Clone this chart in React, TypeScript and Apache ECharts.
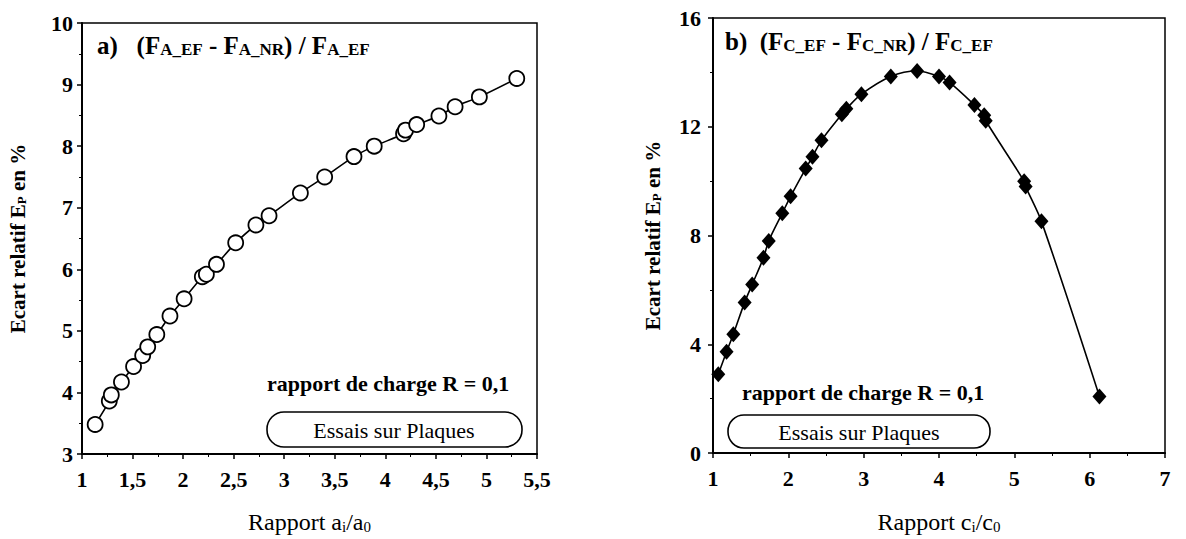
import React, { useEffect, useRef } from "react";
import * as echarts from "echarts";

const ratioA = [1.13, 1.27, 1.29, 1.39, 1.51, 1.6, 1.65, 1.74, 1.87, 2.01, 2.19, 2.23, 2.33, 2.52, 2.72, 2.85, 3.16, 3.4, 3.69, 3.89, 4.18, 4.2, 4.31, 4.53, 4.69, 4.93, 5.3];
const ecartA = [3.48, 3.86, 3.96, 4.17, 4.42, 4.6, 4.74, 4.94, 5.24, 5.52, 5.88, 5.92, 6.08, 6.43, 6.72, 6.87, 7.24, 7.5, 7.83, 8.0, 8.2, 8.26, 8.35, 8.49, 8.64, 8.8, 9.1];

const ratioC = [1.07, 1.18, 1.27, 1.42, 1.52, 1.67, 1.74, 1.92, 2.03, 2.23, 2.32, 2.44, 2.71, 2.77, 2.97, 3.36, 3.71, 4.0, 4.14, 4.47, 4.6, 4.62, 5.13, 5.15, 5.36, 6.13];
const ecartC = [2.9, 3.72, 4.37, 5.54, 6.2, 7.18, 7.8, 8.82, 9.44, 10.46, 10.9, 11.5, 12.46, 12.66, 13.2, 13.85, 14.05, 13.85, 13.63, 12.8, 12.42, 12.22, 10.0, 9.8, 8.52, 2.08];

const xTicksA = { min: 1, max: 5.5, interval: 0.5 };
const yTicksA = { min: 3, max: 10, interval: 1 };
const xTicksC = { min: 1, max: 7, interval: 1 };
const yTicksC = { min: 0, max: 16, interval: 4 };

const FONT = "'Liberation Serif', 'DejaVu Serif', serif";

export default function App() {
  const ref = useRef<HTMLDivElement>(null);
  useEffect(() => {
    document.body.style.margin = "0";
    const chart = echarts.init(ref.current!, null, { renderer: "svg" });
    const tickLabel = {
      fontFamily: FONT,
      fontSize: 22,
      fontWeight: "bold" as const,
      color: "#000",
      formatter: (v: number) => String(v).replace(".", ","),
    };
    const axisLine = { show: true, lineStyle: { color: "#000", width: 2 } };
    const axisTick = { show: true, length: 5, lineStyle: { color: "#000", width: 1.5 } };
    const minorTick = { show: true, splitNumber: 2, length: 3, lineStyle: { color: "#000", width: 1 } };
    const nameRich = {
      a: { fontFamily: FONT, fontSize: 24, color: "#000" },
      s: { fontFamily: FONT, fontSize: 15, color: "#000", verticalAlign: "bottom" as const, padding: [9, 0, 0, 0] },
      yb: { fontFamily: FONT, fontSize: 21, fontWeight: "bold" as const, color: "#000" },
      ys: { fontFamily: FONT, fontSize: 13, fontWeight: "bold" as const, color: "#000", verticalAlign: "bottom" as const, padding: [7, 0, 0, 0] },
    };
    const titleRich = {
      b: { fontFamily: FONT, fontSize: 25, fontWeight: "bold" as const, color: "#000" },
      s: { fontFamily: FONT, fontSize: 17, fontWeight: "bold" as const, color: "#000", verticalAlign: "bottom" as const, padding: [7, 0, 0, 0] },
    };
    const option: any = {
      animation: false,
      backgroundColor: "#fff",
      grid: [
        { left: 82, top: 23, width: 455, height: 435, show: true, borderColor: "#000", borderWidth: 1.5, backgroundColor: "transparent" },
        { left: 713, top: 18, width: 452, height: 439, show: true, borderColor: "#000", borderWidth: 1.5, backgroundColor: "transparent" },
      ],
      xAxis: [
        {
          gridIndex: 0, type: "value", ...xTicksA,
          axisLine, axisTick, minorTick, splitLine: { show: false },
          axisLabel: { ...tickLabel, margin: 14 },
          name: "{a|Rapport a}{s|i}{a|/a}{s|0}",
          nameLocation: "middle", nameGap: 56,
          nameTextStyle: { rich: nameRich },
        },
        {
          gridIndex: 1, type: "value", ...xTicksC,
          axisLine, axisTick, minorTick, splitLine: { show: false },
          axisLabel: { ...tickLabel, margin: 14 },
          name: "{a|Rapport c}{s|i}{a|/c}{s|0}",
          nameLocation: "middle", nameGap: 57,
          nameTextStyle: { rich: nameRich },
        },
      ],
      yAxis: [
        {
          gridIndex: 0, type: "value", ...yTicksA,
          axisLine, axisTick, minorTick, splitLine: { show: false },
          axisLabel: { ...tickLabel, margin: 9 },
          name: "{yb|Ecart relatif E}{ys|P}{yb| en %}",
          nameLocation: "middle", nameGap: 54,
          nameTextStyle: { rich: nameRich },
        },
        {
          gridIndex: 1, type: "value", ...yTicksC,
          axisLine, axisTick, minorTick, splitLine: { show: false },
          axisLabel: { ...tickLabel, margin: 12 },
          name: "{yb|Ecart relatif E}{ys|P}{yb| en %}",
          nameLocation: "middle", nameGap: 50,
          nameTextStyle: { rich: nameRich },
        },
      ],
      series: [
        {
          type: "line", xAxisIndex: 0, yAxisIndex: 0,
          data: ratioA.map((x, i) => [x, ecartA[i]]),
          smooth: 0.3,
          symbol: "circle", symbolSize: 15,
          itemStyle: { color: "#fff", borderColor: "#000", borderWidth: 1.8 },
          lineStyle: { color: "#000", width: 1.6 },
          z: 3,
        },
        {
          type: "line", xAxisIndex: 1, yAxisIndex: 1,
          data: ratioC.map((x, i) => [x, ecartC[i]]),
          smooth: 0.3,
          symbol: "diamond", symbolSize: [14, 16],
          itemStyle: { color: "#000", borderColor: "#000", borderWidth: 0 },
          lineStyle: { color: "#000", width: 1.6 },
          z: 3,
        },
      ],
      graphic: [
        {
          type: "text", left: 97, top: 33,
          style: { text: "{b|a)   (F}{s|A_EF}{b| - F}{s|A_NR}{b|) / F}{s|A_EF}", rich: titleRich },
        },
        {
          type: "text", left: 725, top: 29,
          style: { text: "{b|b)  (F}{s|C_EF}{b| - F}{s|C_NR}{b|) / F}{s|C_EF}", rich: titleRich },
        },
        {
          type: "text", left: 267, top: 372,
          style: { text: "rapport de charge R = 0,1", fontFamily: FONT, fontSize: 22, fontWeight: "bold", fill: "#000" },
        },
        {
          type: "text", left: 742, top: 381,
          style: { text: "rapport de charge R = 0,1", fontFamily: FONT, fontSize: 22, fontWeight: "bold", fill: "#000" },
        },
        {
          type: "rect", shape: { x: 267, y: 412, width: 255, height: 35, r: 17 },
          style: { fill: "#fff", stroke: "#000", lineWidth: 1.6 },
        },
        {
          type: "rect", shape: { x: 728, y: 415, width: 262, height: 33, r: 16 },
          style: { fill: "#fff", stroke: "#000", lineWidth: 1.6 },
        },
        {
          type: "text", x: 394, y: 430,
          style: { text: "Essais sur Plaques", fontFamily: FONT, fontSize: 22, fill: "#000", align: "center", verticalAlign: "middle" },
        },
        {
          type: "text", x: 859, y: 432,
          style: { text: "Essais sur Plaques", fontFamily: FONT, fontSize: 22, fill: "#000", align: "center", verticalAlign: "middle" },
        },
      ],
    };
    chart.setOption(option);
    return () => chart.dispose();
  }, []);
  return <div ref={ref} style={{ width: 1186, height: 539 }} />;
}
